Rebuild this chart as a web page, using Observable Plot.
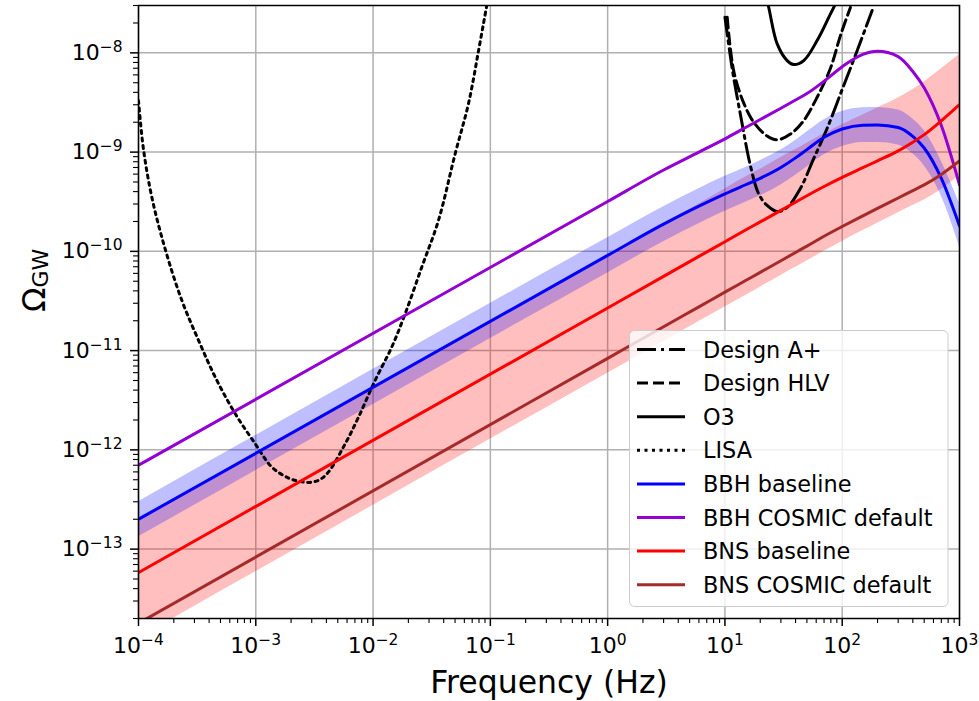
<!DOCTYPE html>
<html>
<head>
<meta charset="utf-8">
<script src="https://cdn.jsdelivr.net/npm/d3@7"></script>
<script src="https://cdn.jsdelivr.net/npm/@observablehq/plot@0.6"></script>
<style>
  html, body { margin: 0; padding: 0; background: #ffffff; }
  #chart svg { display: block; }
</style>
</head>
<body>
<div id="chart"></div>
<script>
// ---------- data ----------
const modelFreq = [1e-4, 1, 3, 6, 10, 15, 20, 30, 40, 50, 70, 100, 150, 200, 300, 400, 500, 700, 1000];

const bbhBaseline     = [2.0e-13, 9.1e-11, 1.88e-10, 2.85e-10, 3.79e-10, 4.69e-10, 5.45e-10, 7.0e-10, 8.75e-10, 1.06e-9, 1.41e-9, 1.71e-9, 1.87e-9, 1.88e-9, 1.77e-9, 1.44e-9, 1.10e-9, 5.43e-10, 1.80e-10];
const bbhBaselineHigh = [3.0e-13, 1.37e-10, 2.82e-10, 4.28e-10, 5.7e-10, 7.0e-10, 8.2e-10, 1.05e-9, 1.31e-9, 1.59e-9, 2.12e-9, 2.57e-9, 2.8e-9, 2.82e-9, 2.66e-9, 2.16e-9, 1.65e-9, 8.1e-10, 3.05e-10];
const bbhBaselineLow  = [1.33e-13, 6.07e-11, 1.25e-10, 1.9e-10, 2.53e-10, 3.13e-10, 3.63e-10, 4.67e-10, 5.83e-10, 7.07e-10, 9.4e-10, 1.14e-9, 1.25e-9, 1.25e-9, 1.18e-9, 9.6e-10, 7.3e-10, 3.6e-10, 1.12e-10];
const bbhCosmic       = [7.0e-13, 3.18e-10, 6.6e-10, 1.0e-9, 1.36e-9, 1.77e-9, 2.13e-9, 2.77e-9, 3.35e-9, 3.89e-9, 5.18e-9, 7.26e-9, 9.64e-9, 1.035e-8, 9.16e-9, 6.49e-9, 4.44e-9, 1.85e-9, 4.68e-10];

const bnsBaseline     = [5.8e-14, 2.69e-11, 5.6e-11, 8.9e-11, 1.25e-10, 1.64e-10, 1.98e-10, 2.59e-10, 3.13e-10, 3.63e-10, 4.5e-10, 5.57e-10, 6.97e-10, 8.17e-10, 1.03e-9, 1.26e-9, 1.50e-9, 2.07e-9, 3.01e-9];
const bnsBaselineHigh = [1.97e-13, 9.1e-11, 1.9e-10, 3.0e-10, 4.25e-10, 5.6e-10, 6.7e-10, 8.8e-10, 1.06e-9, 1.23e-9, 1.53e-9, 1.89e-9, 2.37e-9, 2.78e-9, 3.5e-9, 4.28e-9, 5.1e-9, 6.9e-9, 9.6e-9];
const bnsBaselineLow  = [1.27e-14, 5.93e-12, 1.23e-11, 1.96e-11, 2.75e-11, 3.6e-11, 4.36e-11, 5.71e-11, 6.91e-11, 8.0e-11, 1.0e-10, 1.26e-10, 1.62e-10, 1.92e-10, 2.45e-10, 2.9e-10, 3.3e-10, 4.2e-10, 5.8e-10];
const bnsCosmic       = [1.79e-14, 8.36e-12, 1.74e-11, 2.76e-11, 3.88e-11, 5.08e-11, 6.15e-11, 8.05e-11, 9.75e-11, 1.13e-10, 1.42e-10, 1.78e-10, 2.28e-10, 2.71e-10, 3.45e-10, 4.1e-10, 4.68e-10, 5.96e-10, 8.13e-10];

const lisaFreq  = [1.0e-4, 1.1e-4, 1.30e-4, 1.69e-4, 2.34e-4, 3.25e-4, 4.51e-4, 6.67e-4, 9.9e-4, 1.37e-3, 1.90e-3, 2.4e-3, 2.9e-3, 3.5e-3, 4.17e-3, 5.78e-3, 7.52e-3, 1.04e-2, 1.44e-2, 1.88e-2, 2.60e-2, 3.61e-2, 5.01e-2, 6.50e-2, 7.93e-2, 9.31e-2];
const lisaOmega = [3.3e-9, 1.09e-9, 3.5e-10, 1.05e-10, 3.21e-11, 1.27e-11, 5.41e-12, 2.32e-12, 1.15e-12, 6.71e-13, 5.2e-13, 4.8e-13, 4.7e-13, 5.0e-13, 6.0e-13, 1.15e-12, 2.14e-12, 5.01e-12, 1.08e-11, 2.36e-11, 6.93e-11, 2.05e-10, 9.62e-10, 3.06e-9, 1.05e-8, 2.99e-8];

const o3Freq  = [22.2, 23.6, 27.9, 33.9, 38.6, 47.0, 61.1, 79.4, 90.6];
const o3Omega = [3.8e-8, 2.88e-8, 1.23e-8, 8.36e-9, 7.62e-9, 8.36e-9, 1.33e-8, 2.47e-8, 3.37e-8];

const hlvFreq  = [10.45, 11.9, 14.5, 17.6, 22.9, 27.9, 36.2, 47.0, 61.1, 79.4, 96.7, 117.5];
const hlvOmega = [2.29e-8, 6.5e-9, 3.1e-9, 2.0e-9, 1.45e-9, 1.33e-9, 1.52e-9, 2.08e-9, 3.57e-9, 7.0e-9, 1.5e-8, 2.87e-8];

const aplusFreq  = [10.0, 11.6, 13.6, 16.6, 19.4, 22.9, 27.9, 33.9, 44.0, 57.2, 74.3, 103, 134, 180];
const aplusOmega = [2.29e-8, 6.64e-9, 2.34e-9, 7.05e-10, 3.80e-10, 2.90e-10, 2.52e-10, 2.77e-10, 4.30e-10, 8.63e-10, 1.73e-9, 4.69e-9, 1.05e-8, 2.67e-8];

const xTicks = [1e-4, 1e-3, 1e-2, 1e-1, 1, 10, 100, 1000];
const xTickLabels = ["10^\u22124", "10^\u22123", "10^\u22122", "10^\u22121", "10^0", "10^1", "10^2", "10^3"];
const yTicks = [1e-13, 1e-12, 1e-11, 1e-10, 1e-9, 1e-8];
const yTickLabels = ["10^\u221213", "10^\u221212", "10^\u221211", "10^\u221210", "10^\u22129", "10^\u22128"];

const seriesNames = ["Design A+", "Design HLV", "O3", "LISA", "BBH baseline", "BBH COSMIC default", "BNS baseline", "BNS COSMIC default"];
const xLabel = "Frequency (Hz)";
const yLabel = "\u03A9_GW";

// ---------- tables for the library ----------
const model = modelFreq.map((f, i) => ({
  f,
  bbh: bbhBaseline[i], bbhLo: bbhBaselineLow[i], bbhHi: bbhBaselineHigh[i], bbhC: bbhCosmic[i],
  bns: bnsBaseline[i], bnsLo: bnsBaselineLow[i], bnsHi: bnsBaselineHigh[i], bnsC: bnsCosmic[i]
}));
const pairs = (fs, vs) => fs.map((f, i) => ({f, v: vs[i]}));
const lisa = pairs(lisaFreq, lisaOmega);
const o3 = pairs(o3Freq, o3Omega);
const hlv = pairs(hlvFreq, hlvOmega);
const aplus = pairs(aplusFreq, aplusOmega);

const minorX = [];
for (let e = -4; e < 3; e++) for (let k = 2; k <= 9; k++) minorX.push(k * Math.pow(10, e));
const minorY = [];
for (let e = -14; e < -7; e++) for (let k = 2; k <= 9; k++) {
  const v = k * Math.pow(10, e);
  if (v >= 2e-14 && v <= 3.0001e-8) minorY.push(v);
}
const xLab = new Map(xTicks.map((t, i) => [t, xTickLabels[i]]));
const yLab = new Map(yTicks.map((t, i) => [t, yTickLabels[i]]));

const styles = {
  "Design A+":          {stroke: "black", dash: "19,5,3,5"},
  "Design HLV":         {stroke: "black", dash: "11,5"},
  "O3":                 {stroke: "black", dash: null},
  "LISA":               {stroke: "black", dash: "3,4.5"},
  "BBH baseline":       {stroke: "#0000ff", dash: null},
  "BBH COSMIC default": {stroke: "#9400d3", dash: null},
  "BNS baseline":       {stroke: "#ff0000", dash: null},
  "BNS COSMIC default": {stroke: "#a52a2a", dash: null}
};
const LW = 3;
const lineOpts = (name, curve, extra) => Object.assign({
  stroke: styles[name].stroke, strokeWidth: LW,
  strokeDasharray: styles[name].dash || undefined,
  curve, clip: true
}, extra);

const chart = Plot.plot({
  width: 979, height: 701,
  marginLeft: 138, marginRight: 20, marginTop: 5, marginBottom: 83,
  style: {fontFamily: "'DejaVu Sans', sans-serif", fontSize: "22px", background: "#ffffff", color: "#000000", overflow: "visible"},
  x: {type: "log", domain: [1e-4, 1e3]},
  y: {type: "log", domain: [2e-14, 3e-8]},
  marks: [
    Plot.gridX(xTicks, {stroke: "#b0b0b0", strokeOpacity: 1, strokeWidth: 1.5}),
    Plot.gridY(yTicks, {stroke: "#b0b0b0", strokeOpacity: 1, strokeWidth: 1.5}),
    Plot.areaY(model, {x: "f", y1: "bnsLo", y2: "bnsHi", fill: "#ff0000", fillOpacity: 0.25, curve: "monotone-x", clip: true}),
    Plot.areaY(model, {x: "f", y1: "bbhLo", y2: "bbhHi", fill: "#0000ff", fillOpacity: 0.25, curve: "monotone-x", clip: true}),
    Plot.line(aplus, lineOpts("Design A+", "catmull-rom", {x: "f", y: "v"})),
    Plot.line(hlv, lineOpts("Design HLV", "catmull-rom", {x: "f", y: "v"})),
    Plot.line(o3, lineOpts("O3", "catmull-rom", {x: "f", y: "v"})),
    Plot.line(lisa, lineOpts("LISA", "catmull-rom", {x: "f", y: "v"})),
    Plot.line(model, lineOpts("BBH baseline", "monotone-x", {x: "f", y: "bbh"})),
    Plot.line(model, lineOpts("BBH COSMIC default", "monotone-x", {x: "f", y: "bbhC"})),
    Plot.line(model, lineOpts("BNS baseline", "monotone-x", {x: "f", y: "bns"})),
    Plot.line(model, lineOpts("BNS COSMIC default", "monotone-x", {x: "f", y: "bnsC"})),
    Plot.frame({stroke: "black", strokeWidth: 1.5}),
    Plot.axisX(xTicks, {tickSize: 8, tickPadding: 11, strokeWidth: 1.5, fontSize: 22, label: null, tickFormat: d => xLab.get(d)}),
    Plot.axisX(minorX, {tickSize: 5, strokeWidth: 1.1, label: null, tickFormat: () => ""}),
    Plot.axisY(yTicks, {tickSize: 8, tickPadding: 8, strokeWidth: 1.5, fontSize: 22, label: null, tickFormat: d => yLab.get(d)}),
    Plot.axisY(minorY, {tickSize: 5, strokeWidth: 1.1, label: null, tickFormat: () => ""}),
    Plot.text([xLabel], {frameAnchor: "bottom", dy: 74, fontSize: 31.5}),
    Plot.text([yLabel], {frameAnchor: "left", dx: -104, rotate: -90, fontSize: 32})
  ]
});
document.getElementById("chart").appendChild(chart);

// ---------- typographic post-processing (superscripts / subscript) ----------
const svg = d3.select(chart);
svg.selectAll("text").each(function () {
  const t = d3.select(this);
  const s = this.textContent;
  if (s === "") { t.remove(); return; }
  const m = s.match(/^(10)\^(.+)$/);
  if (m && this.childElementCount === 0) {
    t.text(null);
    t.append("tspan").text(m[1]);
    t.append("tspan").attr("dy", -8).attr("font-size", "15.5px").text(m[2]);
  } else if (s === yLabel) {
    const parts = s.split("_");
    t.text(null);
    t.append("tspan").text(parts[0]);
    t.append("tspan").attr("dy", 3).attr("font-size", "22px").text(parts[1]);
  }
});

// ---------- legend ----------
const lg = svg.append("g").attr("font-family", "'DejaVu Sans', sans-serif").attr("text-anchor", "start");
lg.append("rect")
  .attr("x", 629.5).attr("y", 330.5).attr("width", 318.5).attr("height", 276)
  .attr("rx", 5).attr("fill", "#ffffff").attr("fill-opacity", 0.8)
  .attr("stroke", "#cccccc").attr("stroke-width", 1);
seriesNames.forEach((name, i) => {
  const y = 349.5 + i * 33.6;
  const st = styles[name];
  lg.append("line")
    .attr("x1", 637).attr("x2", 685).attr("y1", y).attr("y2", y)
    .attr("stroke", st.stroke).attr("stroke-width", LW)
    .attr("stroke-dasharray", st.dash);
  lg.append("text")
    .attr("x", 703).attr("y", y).attr("dy", "0.36em")
    .attr("text-anchor", "start")
    .attr("font-size", "22.4px").attr("fill", "#000")
    .text(name);
});
</script>
</body>
</html>
